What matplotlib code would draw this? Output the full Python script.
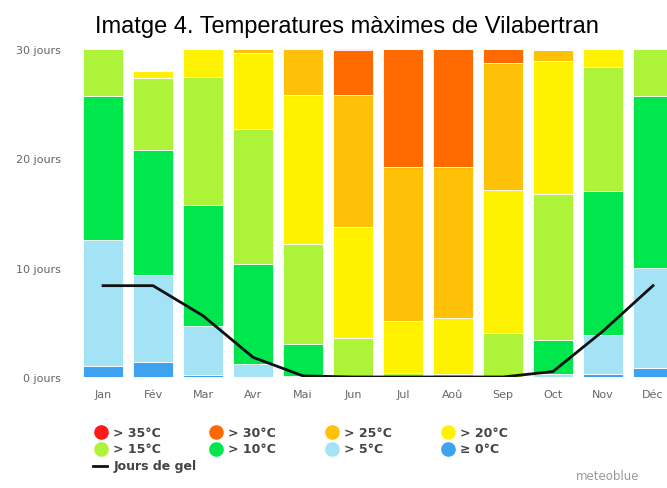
import numpy as np
import matplotlib
matplotlib.use('Agg')
import matplotlib.pyplot as plt
from matplotlib.lines import Line2D

# Months and days per temperature class (max temperature)
months = ['Jan', 'Fév', 'Mar', 'Avr', 'Mai', 'Jun', 'Jul', 'Aoû', 'Sep', 'Oct', 'Nov', 'Déc']
d_ge0 = [1.0, 1.4, 0.2, 0.0, 0.0, 0.0, 0.0, 0.0, 0.0, 0.0, 0.3, 0.8]
d_gt5 = [11.5, 7.9, 4.5, 1.2, 0.1, 0.0, 0.0, 0.0, 0.0, 0.3, 3.55, 9.2]
d_gt10 = [13.2, 11.5, 11.0, 9.1, 2.9, 0.1, 0.0, 0.0, 0.0, 3.1, 13.2, 15.7]
d_gt15 = [4.3, 6.5, 11.7, 12.4, 9.2, 3.5, 0.4, 0.3, 4.0, 13.3, 11.25, 4.3]
d_gt20 = [0.0, 0.65, 2.6, 6.9, 13.6, 10.1, 4.75, 5.1, 13.1, 12.2, 1.7, 0.0]
d_gt25 = [0.0, 0.0, 0.0, 0.4, 4.2, 12.1, 14.05, 13.8, 11.6, 1.0, 0.0, 0.0]
d_gt30 = [0.0, 0.0, 0.0, 0.0, 0.0, 4.1, 10.8, 10.8, 1.3, 0.0, 0.0, 0.0]
d_gt35 = [0.0, 0.0, 0.0, 0.0, 0.0, 0.1, 0.0, 0.0, 0.0, 0.0, 0.0, 0.0]
frost_days = [8.35, 8.35, 5.6, 1.8, 0.1, 0.0, 0.0, 0.0, 0.0, 0.5, 4.2, 8.35]

classes = ['≥ 0°C', '> 5°C', '> 10°C', '> 15°C', '> 20°C', '> 25°C', '> 30°C', '> 35°C']
colors = ['#3ea2ee', '#a4e3f6', '#00e64d', '#adf33a', '#fff200', '#ffc107', '#ff6a00', '#ff1a1a']
series = [d_ge0, d_gt5, d_gt10, d_gt15, d_gt20, d_gt25, d_gt30, d_gt35]

fig = plt.figure(figsize=(6.67, 4.89), dpi=100)
ax = fig.add_axes([0.117, 0.227, 0.883, 0.671])

x = np.arange(len(months))
bottom = np.zeros(len(months))
for vals, col in zip(series, colors):
    ax.bar(x, vals, width=0.8, bottom=bottom, color=col, edgecolor='white', linewidth=0.6)
    bottom += np.array(vals)

ax.plot(x, frost_days, color='#111111', linewidth=2)

ax.set_xlim(-0.5, 11.28)
ax.set_ylim(0, 30)
ax.set_yticks([0, 10, 20, 30])
ax.set_yticklabels(['0 jours', '10 jours', '20 jours', '30 jours'])
ax.set_xticks(x)
ax.set_xticklabels(months)
ax.tick_params(axis='y', length=0, pad=12, labelsize=8, labelcolor='#666666')
ax.tick_params(axis='x', length=0, pad=9, labelsize=8, labelcolor='#666666')
for s in ax.spines.values():
    s.set_visible(False)

fig.text(0.52, 0.9325, 'Imatge 4. Temperatures màximes de Vilabertran',
         ha='center', va='baseline', fontsize=17, family='Liberation Sans')

# legend drawn by hand to match the original layout
leg_order = ['> 35°C', '> 30°C', '> 25°C', '> 20°C', '> 15°C', '> 10°C', '> 5°C', '≥ 0°C']
for i, lab in enumerate(leg_order):
    col = colors[classes.index(lab)]
    cx = 0.151 + (i % 4) * 0.1735
    cy = 0.1145 - (i // 4) * 0.0345
    fig.add_artist(Line2D([cx], [cy], marker='o', markersize=9.5, color=col,
                          linestyle='none', transform=fig.transFigure))
    fig.text(cx + 0.018, cy, lab, ha='left', va='center', fontsize=9,
             fontweight='bold', color='#444444')
fig.add_artist(Line2D([0.139, 0.161], [0.045, 0.045], color='#111111', linewidth=2,
                      transform=fig.transFigure))
fig.text(0.170, 0.045, 'Jours de gel', ha='left', va='center', fontsize=9,
         fontweight='bold', color='#444444')

fig.text(0.958, 0.012, 'meteoblue', ha='right', va='bottom', fontsize=8.5, color='#999999')

fig.savefig('out.png', dpi=100)
